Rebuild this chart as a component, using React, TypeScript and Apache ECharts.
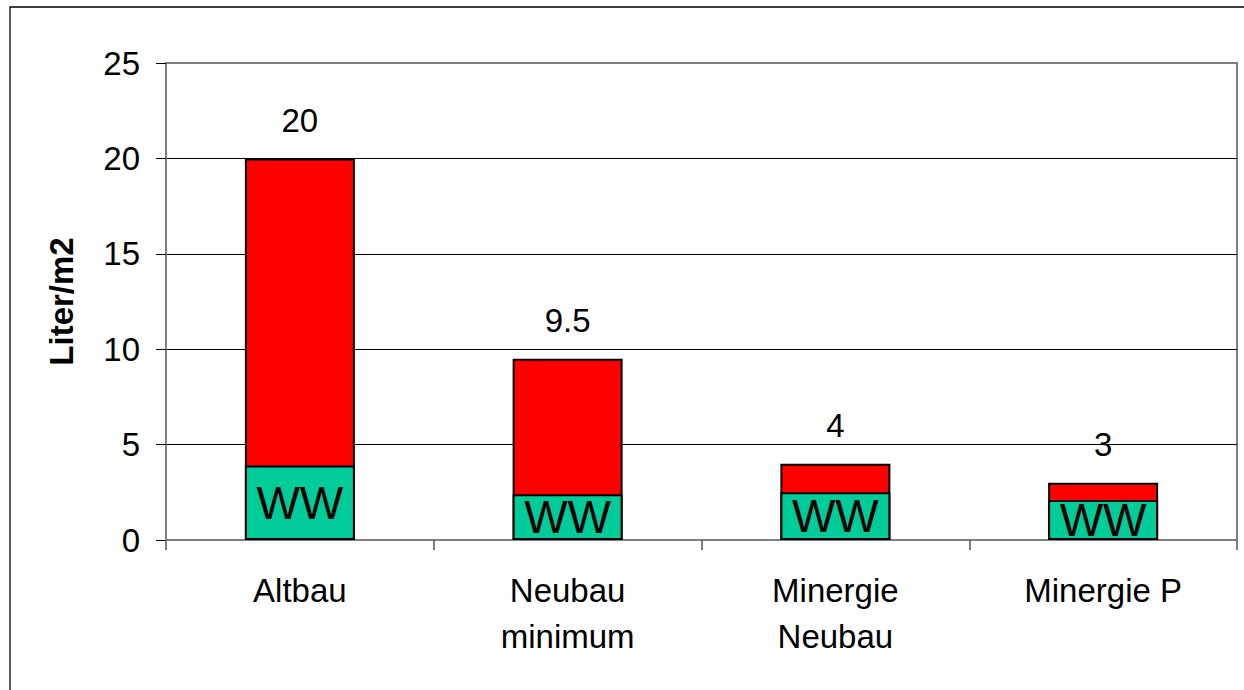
import React, { useEffect, useRef } from "react";
import * as echarts from "echarts";

const categories = ["Altbau", "Neubau\nminimum", "Minergie\nNeubau", "Minergie P"];
const totalValues = [20, 9.5, 4, 3];
const wwValues = [3.9, 2.4, 2.5, 2.1];
const wwLabel = "WW";
const yAxisTitle = "Liter/m2";
const yMin = 0;
const yMax = 25;
const yInterval = 5;

const FONT = "'Liberation Sans', Arial, Helvetica, sans-serif";

export default function App() {
  const ref = useRef<HTMLDivElement>(null);
  useEffect(() => {
    if (!ref.current) return;
    const chart = echarts.init(ref.current, null, { renderer: "svg" });
    chart.setOption({
      animation: false,
      backgroundColor: "#ffffff",
      textStyle: { fontFamily: FONT },
      grid: {
        left: 166,
        top: 63,
        right: 7,
        bottom: 150,
        show: true,
        borderColor: "#808080",
        borderWidth: 2,
        backgroundColor: "transparent",
      },
      graphic: [
        {
          type: "rect",
          shape: { x: 10, y: 7, width: 1400, height: 900 },
          style: { fill: "none", stroke: "#000", lineWidth: 1.3 },
          silent: true,
        },
      ],
      xAxis: {
        type: "category",
        data: categories,
        boundaryGap: true,
        axisLine: { show: true, lineStyle: { color: "#808080", width: 2 } },
        axisTick: { show: true, length: 10, lineStyle: { color: "#555", width: 1.5 } },
        axisLabel: {
          color: "#000",
          fontSize: 33,
          fontFamily: FONT,
          lineHeight: 46,
          margin: 27,
          interval: 0,
        },
        splitLine: { show: false },
      },
      yAxis: {
        type: "value",
        min: yMin,
        max: yMax,
        interval: yInterval,
        name: yAxisTitle,
        nameLocation: "middle",
        nameGap: 88,
        nameRotate: 90,
        nameTextStyle: {
          color: "#000",
          fontSize: 33,
          fontWeight: "bold",
          fontFamily: FONT,
        },
        axisLine: { show: true, lineStyle: { color: "#808080", width: 2 } },
        axisTick: { show: true, length: 10, lineStyle: { color: "#000", width: 1 } },
        axisLabel: { color: "#000", fontSize: 33, fontFamily: FONT, margin: 26 },
        splitLine: {
          show: true,
          showMinLine: false,
          showMaxLine: false,
          lineStyle: { color: "#000", width: 1 },
        },
      },
      series: [
        {
          name: "Total",
          type: "bar",
          data: totalValues,
          barWidth: 110,
          itemStyle: { color: "#ff0000", borderColor: "#000", borderWidth: 2 },
          label: {
            show: true,
            position: "top",
            distance: 21,
            color: "#000",
            fontSize: 33,
            lineHeight: 34,
            fontFamily: FONT,
          },
          z: 2,
        },
        {
          name: wwLabel,
          type: "bar",
          data: wwValues,
          barWidth: 110,
          barGap: "-100%",
          itemStyle: { color: "#00cc99", borderColor: "#000", borderWidth: 2 },
          label: {
            show: true,
            position: "inside",
            formatter: () => wwLabel,
            color: "#000",
            fontSize: 46,
            fontFamily: FONT,
          },
          z: 3,
        },
      ],
    });
    return () => chart.dispose();
  }, []);
  return (
    <div
      ref={ref}
      style={{ position: "fixed", left: 0, top: 0, width: 1244, height: 690 }}
    />
  );
}
